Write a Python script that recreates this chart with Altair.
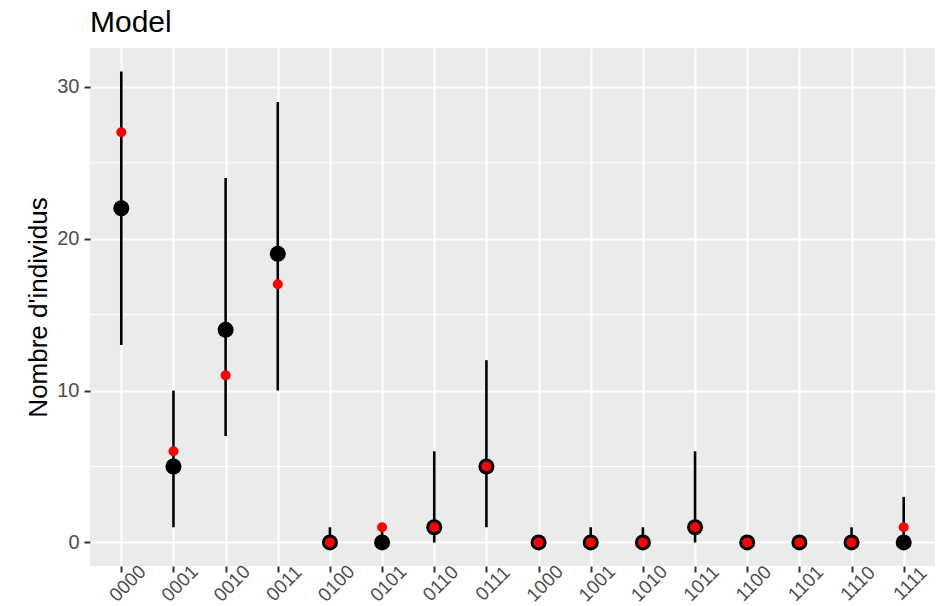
import altair as alt
import pandas as pd

# Capture histories and counts per history
categories = ["0000", "0001", "0010", "0011", "0100", "0101", "0110", "0111",
              "1000", "1001", "1010", "1011", "1100", "1101", "1110", "1111"]
estimate = [22, 5, 14, 19, 0, 0, 1, 5, 0, 0, 0, 1, 0, 0, 0, 0]
observed = [27, 6, 11, 17, 0, 1, 1, 5, 0, 0, 0, 1, 0, 0, 0, 1]
lower = [13, 1, 7, 10, 0, 0, 0, 1, 0, 0, 0, 0, 0, 0, 0, 0]
upper = [31, 10, 24, 29, 1, 1, 6, 12, 0, 1, 1, 6, 0, 0, 1, 3]

major_breaks = [0, 10, 20, 30]
minor_breaks = [5, 15, 25]

df = pd.DataFrame({
    "history": categories,
    "estimate": estimate,
    "observed": observed,
    "lower": lower,
    "upper": upper,
})
minor_df = pd.DataFrame({"minor": minor_breaks})

FONT = "Liberation Sans"

x_axis = alt.Axis(
    title="",
    labelAngle=-45,
    labelAlign="center",
    labelBaseline="middle",
    labelOffset=6,
    labelPadding=11,
    labelFontSize=19,
    labelColor="#4D4D4D",
    labelFont=FONT,
    tickColor="#333333",
    tickSize=6,
    tickWidth=2,
    domain=False,
    grid=True,
    gridColor="white",
    gridWidth=2,
)
x_scale = alt.Scale(type="point", padding=0.6, domain=categories)

y_axis = alt.Axis(
    title="Nombre d'individus",
    titleFont=FONT,
    titleFontSize=26,
    titleFontWeight="normal",
    titleColor="black",
    titleAngle=-90,
    titleBaseline="alphabetic",
    titleAlign="center",
    titleX=-44,
    titleY=259,
    values=major_breaks,
    labelFontSize=20,
    labelColor="#4D4D4D",
    labelFont=FONT,
    labelPadding=5,
    tickColor="#333333",
    tickSize=6,
    tickWidth=2,
    domain=False,
    grid=True,
    gridColor="white",
    gridWidth=2,
)
y_scale = alt.Scale(domain=[-1.55, 32.55], nice=False, zero=False)

# Minor horizontal gridlines
minor = alt.Chart(minor_df).mark_rule(color="white", strokeWidth=1.1).encode(
    y=alt.Y("minor:Q", scale=y_scale, axis=y_axis)
)

# Interval for each history
bars = alt.Chart(df).mark_rule(color="black", strokeWidth=2.6).encode(
    x=alt.X("history:N", scale=x_scale, axis=x_axis),
    y=alt.Y("lower:Q", scale=y_scale, axis=y_axis),
    y2="upper:Q",
)

# Estimated counts
est_pts = alt.Chart(df).mark_circle(color="black", size=256, opacity=1).encode(
    x=alt.X("history:N", scale=x_scale, axis=x_axis),
    y=alt.Y("estimate:Q", scale=y_scale, axis=y_axis),
)

# Observed counts
obs_pts = alt.Chart(df).mark_circle(color="#FF0000", size=100, opacity=1).encode(
    x=alt.X("history:N", scale=x_scale, axis=x_axis),
    y=alt.Y("observed:Q", scale=y_scale, axis=y_axis),
)

chart = alt.layer(minor, bars, est_pts, obs_pts).properties(
    width=845,
    height=518,
    title=alt.TitleParams(
        text="Model",
        anchor="start",
        frame="group",
        font=FONT,
        fontSize=30,
        fontWeight="normal",
        color="black",
        offset=10,
    ),
    autosize=alt.AutoSizeParams(type="none"),
    padding={"left": 90, "top": 48, "right": 5, "bottom": 40},
    background="white",
).configure_view(
    fill="#EBEBEB",
    stroke=None,
)

chart.save("out.html", embed_options={"renderer": "svg", "actions": False})
